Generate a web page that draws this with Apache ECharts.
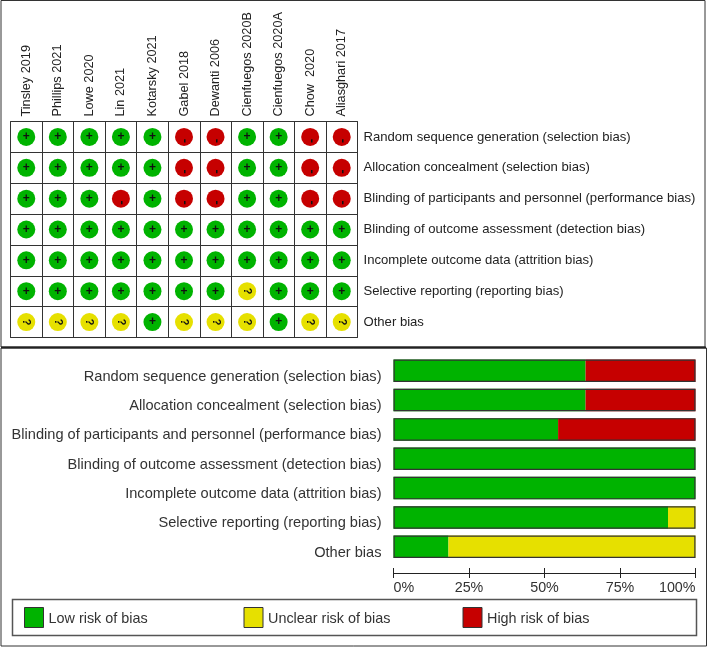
<!DOCTYPE html>
<html><head><meta charset="utf-8">
<style>html,body{margin:0;padding:0;background:#fff}#c{width:708px;height:647px}</style>
<script src="https://cdn.jsdelivr.net/npm/echarts@6/dist/echarts.min.js"></script>
</head><body><div id="c"></div>
<script>
const studies = ['Tinsley 2019','Phillips 2021','Lowe 2020','Lin 2021','Kotarsky 2021','Gabel 2018','Dewanti 2006','Cienfuegos 2020B','Cienfuegos 2020A','Chow  2020','Aliasghari 2017'];
const domains = ['Random sequence generation (selection bias)','Allocation concealment (selection bias)','Blinding of participants and personnel (performance bias)','Blinding of outcome assessment (detection bias)','Incomplete outcome data (attrition bias)','Selective reporting (reporting bias)','Other bias'];
const ratings = [
 ['+','+','+','+','+','-','-','+','+','-','-'],
 ['+','+','+','+','+','-','-','+','+','-','-'],
 ['+','+','+','-','+','-','-','+','+','-','-'],
 ['+','+','+','+','+','+','+','+','+','+','+'],
 ['+','+','+','+','+','+','+','+','+','+','+'],
 ['+','+','+','+','+','+','+','?','+','+','+'],
 ['?','?','?','?','+','?','?','?','+','?','?']
];
const lowRisk = [63.6,63.6,54.5,100,100,90.9,18.2];
const unclearRisk = [0,0,0,0,0,9.1,81.8];
const highRisk = [36.4,36.4,45.5,0,0,0,0];
const outline = [100,100,100,100,100,100,100];
const ticks = [0,25,50,75,100];
const GREEN='#00b300', YELLOW='#e6e000', RED='#c60000', INK='#222';
const colorOf = {'+':GREEN,'?':YELLOW,'-':RED};
const FONT='"Liberation Sans", Arial, sans-serif';
const points=[];
ratings.forEach((row,r)=>row.forEach((v,c)=>points.push({
  value:[c,r,v],
  itemStyle:{color:colorOf[v],opacity:1},
  label:{rotate:v==='+'?0:-90,fontSize:v==='-'?13:(v==='+'?12:11),offset:v==='-'?[4,-1]:[0,0]}
})));
const legendItem=(name,left,color)=>({
  data:[name],left,top:607,padding:0,itemWidth:19,itemHeight:20,itemGap:0,
  icon:'rect',
  itemStyle:{color,borderColor:'#333',borderWidth:1},
  formatter:n=>'{a|'+n+'}',
  textStyle:{rich:{a:{fontFamily:FONT,fontSize:14.4,color:'#333',padding:[4,0,0,0]}}},
  selectedMode:false
});
const chart=echarts.init(document.getElementById('c'),null,{renderer:'canvas'});
chart.setOption({
 animation:false,
 backgroundColor:'#fff',
 graphic:[
  {type:'rect',shape:{x:1,y:0.5,width:704,height:346.5},style:{fill:'none',stroke:'#333',lineWidth:1},silent:true},
  {type:'rect',shape:{x:1,y:348,width:705.5,height:298},style:{fill:'none',stroke:'#333',lineWidth:1},silent:true},
  {type:'line',shape:{x1:1,y1:347.5,x2:706,y2:347.5},style:{stroke:'#222',lineWidth:2},silent:true},
  {type:'rect',shape:{x:12.5,y:599.5,width:684,height:36},style:{fill:'none',stroke:'#555',lineWidth:1.5},silent:true}
 ],
 grid:[
  {left:10.5,top:121.5,width:347,height:216,show:true,borderColor:'#333',borderWidth:1,backgroundColor:'#fff'},
  {left:393.5,top:356,width:302,height:205.5}
 ],
 xAxis:[
  {type:'category',gridIndex:0,position:'top',data:studies,
   axisLine:{show:false},axisTick:{show:false},
   splitLine:{show:true,interval:0,lineStyle:{color:'#333',width:1}},
   axisLabel:{interval:0,rotate:-90,margin:5,fontFamily:FONT,fontSize:12.7,color:INK}},
  {type:'value',gridIndex:1,position:'bottom',offset:11.5,min:0,max:100,interval:25,
   axisLine:{show:true,onZero:false,lineStyle:{color:'#222'}},
   axisTick:{show:true,length:5,lineStyle:{color:'#222'}},
   splitLine:{show:false},
   axisLabel:{margin:8,fontFamily:FONT,fontSize:14.3,color:'#333',alignMinLabel:'left',alignMaxLabel:'right',
     formatter:v=>ticks.includes(v)?v+'%':''}},
  {type:'value',gridIndex:1,position:'bottom',offset:11.5,min:0,max:100,interval:25,
   axisLine:{show:false,onZero:false},
   axisTick:{show:true,inside:true,length:5,lineStyle:{color:'#222'}},
   splitLine:{show:false},axisLabel:{show:false}}
 ],
 yAxis:[
  {type:'category',gridIndex:0,position:'right',inverse:true,data:domains,
   axisLine:{show:false},axisTick:{show:false},
   splitLine:{show:true,interval:0,lineStyle:{color:'#333',width:1}},
   axisLabel:{interval:0,margin:6,fontFamily:FONT,fontSize:13.1,color:INK}},
  {type:'category',gridIndex:1,position:'left',inverse:true,data:domains,
   axisLine:{show:false},axisTick:{show:false},splitLine:{show:false},
   axisLabel:{interval:0,margin:12,formatter:v=>'{a|'+v+'}',
     rich:{a:{fontFamily:FONT,fontSize:14.6,color:'#333',padding:[12,0,0,0]}}}}
 ],
 legend:[legendItem('Low risk of bias',24,GREEN),legendItem('Unclear risk of bias',243.5,YELLOW),legendItem('High risk of bias',462.5,RED)],
 series:[
  {type:'scatter',xAxisIndex:0,yAxisIndex:0,symbol:'circle',symbolSize:18,data:points,
   label:{show:true,position:'inside',formatter:p=>p.value[2],fontFamily:FONT,fontWeight:'bold',fontSize:11,color:'#111'}},
  {name:'Low risk of bias',type:'bar',xAxisIndex:1,yAxisIndex:1,stack:'r',barWidth:22.5,barGap:'-100%',data:lowRisk,itemStyle:{color:GREEN}},
  {name:'Unclear risk of bias',type:'bar',xAxisIndex:1,yAxisIndex:1,stack:'r',barWidth:22.5,data:unclearRisk,itemStyle:{color:YELLOW}},
  {name:'High risk of bias',type:'bar',xAxisIndex:1,yAxisIndex:1,stack:'r',barWidth:22.5,data:highRisk,itemStyle:{color:RED}},
  {name:'outline',type:'bar',xAxisIndex:1,yAxisIndex:1,barWidth:22.5,barGap:'-100%',z:5,data:outline,
   itemStyle:{color:'rgba(0,0,0,0)',borderColor:'#333',borderWidth:1.2},silent:true}
 ]
});
</script></body></html>
